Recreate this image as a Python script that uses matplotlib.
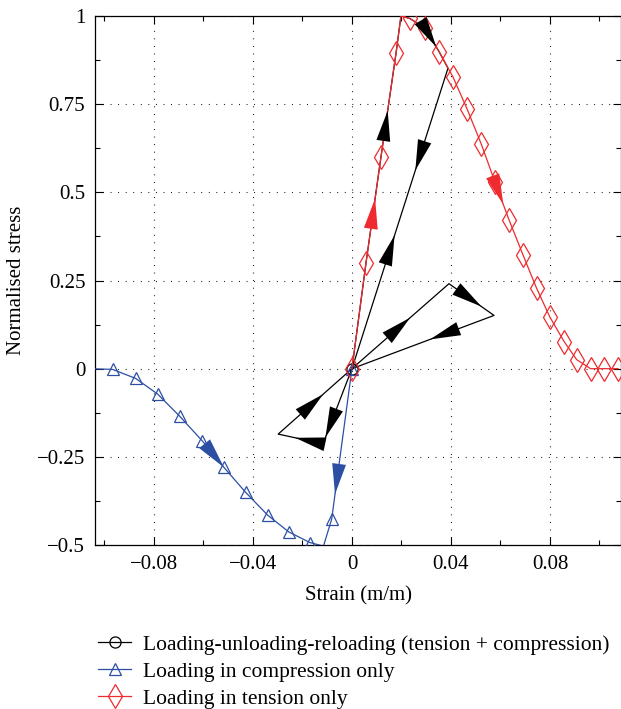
import numpy as np
import matplotlib
matplotlib.use('Agg')
import matplotlib.pyplot as plt

plt.rcParams['font.family'] = ['Liberation Serif', 'DejaVu Serif']
plt.rcParams['axes.unicode_minus'] = True

# ------------------------------------------------------
#   data
# ------------------------------------------------------
# loading-unloading-reloading path (black)
lur_x = [0, 0.0057, 0.0117, 0.0178, 0.0198, 0.0234, 0.0295, 0.0352, 0.0388, 0,
         0.0392, 0.0574, 0, -0.0117, -0.0298, 0]
lur_y = [0, 0.301, 0.599, 0.894, 1.0, 0.993, 0.966, 0.899, 0.852, 0,
         0.241, 0.151, 0, -0.213, -0.1855, 0]

# loading in compression only (blue)
comp_x = [-0.106, -0.0967, -0.0874, -0.0785, -0.0695, -0.0605, -0.0517, -0.0429,
          -0.0341, -0.0255, -0.017, -0.0115, -0.0082, 0]
comp_y = [0, -0.002, -0.0276, -0.072, -0.1355, -0.2045, -0.280, -0.351,
          -0.415, -0.463, -0.493, -0.503, -0.427, 0]
comp_marks = [1, 2, 3, 4, 5, 6, 7, 8, 9, 10, 12, 13]

# loading in tension only (red)
tens_x = [0, 0.0057, 0.0117, 0.0178, 0.0198, 0.0234, 0.0295, 0.0352, 0.0409, 0.0466,
          0.0523, 0.0578, 0.0634, 0.0692, 0.0746, 0.0800, 0.0857, 0.0908, 0.0964,
          0.1020, 0.1075]
tens_y = [0, 0.301, 0.599, 0.894, 1.0, 0.993, 0.966, 0.899, 0.826, 0.735,
          0.636, 0.529, 0.423, 0.321, 0.228, 0.146, 0.077, 0.0256, 0.0,
          0.0, 0.0]
tens_marks = [0, 1, 2, 3] + list(range(5, 21))

# arrows: (segment index, fraction along segment, reversed?)
lur_arrows = [(2, 0.45, False), (6, 0.8, False), (8, 0.34, False), (8, 0.556, True),
              (9, 0.6, False), (10, 0.72, False), (11, 0.45, False),
              (12, 0.915, False), (13, 0.62, False), (14, 0.61, False)]
comp_arrows = [(5, 1.0, False), (12, 0.166, True)]
tens_arrows = [(1, 0.61, False), (11, 0.6, False)]

legend_labels = ['Loading-unloading-reloading (tension + compression)',
                 'Loading in compression only',
                 'Loading in tension only']

black = 'black'
blue = '#2c4fa3'
red = '#ee2b2e'

fig = plt.figure(figsize=(6.21, 7.09), dpi=100)
ax = fig.add_axes([0.153, 0.2313, 0.847, 0.7461])


def draw_arrows(xs, ys, arrows, color):
    for seg, t, rev in arrows:
        x0, y0 = xs[seg], ys[seg]
        x1, y1 = xs[seg + 1], ys[seg + 1]
        tip = (x0 + t * (x1 - x0), y0 + t * (y1 - y0))
        d = -1 if rev else 1
        tail = (tip[0] - d * 0.02 * (x1 - x0), tip[1] - d * 0.02 * (y1 - y0))
        ax.annotate('', xy=tip, xytext=tail,
                    arrowprops=dict(arrowstyle='-|>,head_length=2.2,head_width=0.5',
                                    color=color, lw=0, shrinkA=0, shrinkB=0),
                    zorder=5)


ax.plot(lur_x, lur_y, '-', color=black, lw=0.9, marker='o', markevery=[0],
        ms=8, mfc='none', mew=0.9, label=legend_labels[0], zorder=2)
ax.plot(comp_x, comp_y, '-', color=blue, lw=0.9, marker='^', markevery=comp_marks,
        ms=9, mfc='none', mew=0.9, label=legend_labels[1], zorder=3)
ax.plot(tens_x, tens_y, '-', color=red, lw=0.9, marker='d', markevery=tens_marks,
        ms=12, mfc='none', mew=0.9, label=legend_labels[2], zorder=4)

draw_arrows(lur_x, lur_y, lur_arrows, black)
draw_arrows(comp_x, comp_y, comp_arrows, blue)
draw_arrows(tens_x, tens_y, tens_arrows, red)

ax.set_xlim(-0.1038, 0.1087)
ax.set_ylim(-0.5, 1.0)

xt = [-0.08, -0.04, 0, 0.04, 0.08]
yt = [-0.5, -0.25, 0, 0.25, 0.5, 0.75, 1]
ax.set_xticks(xt)
ax.set_xticklabels(['\u22120.08', '\u22120.04', '0', '0.04', '0.08'])
ax.set_yticks(yt)
ax.set_yticklabels(['\u22120.5', '\u22120.25', '0', '0.25', '0.5', '0.75', '1'])
ax.set_xticks(np.arange(-0.1, 0.1001, 0.02), minor=True)
ax.set_yticks(np.arange(-0.5, 1.001, 0.125), minor=True)
ax.tick_params(which='both', direction='in', top=True, right=True, labelsize=15,
               width=0.8, colors='black')
ax.tick_params(which='major', length=6, pad=7)
ax.tick_params(which='minor', length=3.5)
ax.grid(True, which='major', color='black', linestyle=(0, (0.8, 6)), lw=0.8)
for s in ax.spines.values():
    s.set_linewidth(0.9)

ax.set_xlabel('Strain (m/m)', fontsize=15, labelpad=9)
ax.set_ylabel('Normalised stress', fontsize=15, labelpad=8)

fig.legend(loc='upper left', bbox_to_anchor=(0.158, 0.105), frameon=False,
           fontsize=15.5, handlelength=1.55, handletextpad=0.55, labelspacing=0.33,
           borderaxespad=0, borderpad=0)

fig.savefig('out.png', dpi=100)
